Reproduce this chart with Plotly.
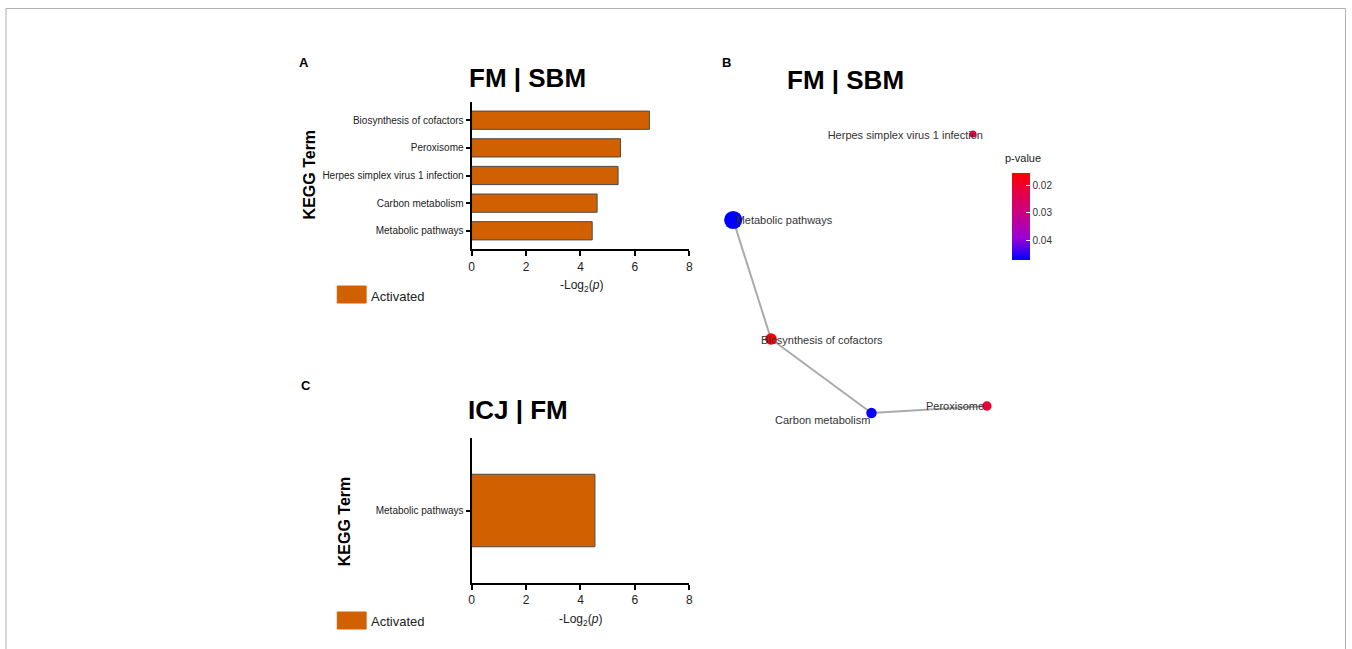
import plotly.graph_objects as go

W, H = 1352, 649

# ---- data -------------------------------------------------------------
terms_a = ["Biosynthesis of cofactors", "Peroxisome", "Herpes simplex virus 1 infection",
           "Carbon metabolism", "Metabolic pathways"]
neglog2p_a = [6.53, 5.47, 5.38, 4.61, 4.43]

terms_c = ["Metabolic pathways"]
neglog2p_c = [4.53]

x_ticks = [0, 2, 4, 6, 8]

# network (panel B): node layout coordinates, p-values and gene counts
net_nodes = ["Herpes simplex virus 1 infection", "Metabolic pathways",
             "Biosynthesis of cofactors", "Carbon metabolism", "Peroxisome"]
net_x = [2.75, 0.34, 0.72, 1.73, 2.89]
net_y = [3.06, 2.20, 1.01, 0.27, 0.34]
net_p = [0.0225, 0.0474, 0.0152, 0.0470, 0.0205]
net_count = [2, 12, 6, 5, 4]
net_label_x = [2.07, 0.85, 1.23, 1.24, 2.57]
net_label_y = [3.04, 2.19, 0.99, 0.19, 0.33]
net_edges = [("Metabolic pathways", "Biosynthesis of cofactors"),
             ("Biosynthesis of cofactors", "Carbon metabolism"),
             ("Carbon metabolism", "Peroxisome")]
pval_ticks = [0.02, 0.03, 0.04]

BAR = "#D06000"
FONT = "Liberation Sans, Arial, sans-serif"


def px(x):
    return x / W


def py(y):
    return 1 - y / H


fig = go.Figure()

# ---- panel A: bar chart ------------------------------------------------
fig.add_trace(go.Bar(
    x=neglog2p_a, y=terms_a, orientation="h", width=0.66,
    marker=dict(color=BAR, line=dict(color="#4a4a4a", width=1)),
    xaxis="x", yaxis="y", showlegend=False, hoverinfo="x+y"))

# ---- panel C: bar chart ------------------------------------------------
fig.add_trace(go.Bar(
    x=neglog2p_c, y=terms_c, orientation="h", width=1.0,
    marker=dict(color=BAR, line=dict(color="#4a4a4a", width=1)),
    xaxis="x2", yaxis="y2", showlegend=False, hoverinfo="x+y"))

# ---- panel B: network ----------------------------------------------------
idx = {n: i for i, n in enumerate(net_nodes)}
for a, b in net_edges:
    i, j = idx[a], idx[b]
    fig.add_trace(go.Scatter(
        x=[net_x[i], net_x[j]], y=[net_y[i], net_y[j]], mode="lines",
        line=dict(color="#aaaaaa", width=2), xaxis="x3", yaxis="y3",
        showlegend=False, hoverinfo="skip"))

# colour uses -p so that small p-values sit at the top of the colour bar
neg_p = [-p for p in net_p]
fig.add_trace(go.Scatter(
    x=net_x, y=net_y, mode="markers", xaxis="x3", yaxis="y3",
    text=net_nodes, hoverinfo="text", showlegend=False, opacity=1,
    marker=dict(
        size=[5 + 1.1 * c for c in net_count],
        color=neg_p, opacity=1,
        colorscale=[[0, "#0000FF"], [0.25, "#9A00D6"], [0.5, "#C4008F"],
                    [0.75, "#E2004F"], [1, "#FF0000"]],
        line=dict(width=0),
        colorbar=dict(
            x=px(1014), xanchor="left", y=py(216.5), yanchor="middle",
            thickness=18, thicknessmode="pixels",
            len=87, lenmode="pixels",
            outlinewidth=0, ticks="inside", ticklen=4, tickcolor="white",
            tickwidth=1,
            tickvals=[-v for v in pval_ticks],
            ticktext=[f"{v:.2f}" for v in pval_ticks],
            tickfont=dict(size=10, color="#333", family=FONT),
            xpad=0, ypad=0,
        ),
    )))

fig.add_trace(go.Scatter(
    x=net_label_x, y=net_label_y, mode="text", text=net_nodes,
    textfont=dict(size=11, color="#333", family=FONT),
    xaxis="x3", yaxis="y3", showlegend=False, hoverinfo="skip"))

# ---- axes ----------------------------------------------------------------
bar_x = dict(
    range=[0, 8], tickvals=x_ticks, showgrid=False, zeroline=False,
    showline=True, linecolor="black", linewidth=2,
    ticks="outside", ticklen=5, tickwidth=1.5, tickcolor="black",
    tickfont=dict(size=12, color="#222", family=FONT), fixedrange=True)
bar_y = dict(
    showgrid=False, zeroline=False, showline=True, linecolor="black",
    linewidth=2, ticks="outside", ticklen=4, tickwidth=1.5,
    tickcolor="black", tickfont=dict(size=10, color="#222", family=FONT),
    fixedrange=True)

fig.update_layout(
    width=W, height=H,
    margin=dict(l=0, r=0, t=0, b=0),
    paper_bgcolor="white", plot_bgcolor="white",
    font=dict(family=FONT),
    xaxis=dict(bar_x, domain=[px(471), px(690)], anchor="y"),
    yaxis=dict(bar_y, domain=[py(249.3), py(101.7)], anchor="x",
               categoryorder="array", categoryarray=terms_a[::-1],
               range=[-0.67, 4.67]),
    xaxis2=dict(bar_x, domain=[px(471), px(690)], anchor="y2"),
    yaxis2=dict(bar_y, domain=[py(583), py(438)], anchor="x2",
                range=[-1, 1]),
    xaxis3=dict(domain=[px(700), px(1010)], range=[0, 3.1], anchor="y3",
                visible=False, fixedrange=True),
    yaxis3=dict(domain=[py(440), py(120)], range=[0, 3.2], anchor="x3",
                visible=False, fixedrange=True),
)

# ---- text ----------------------------------------------------------------
ann = []


def text(x, y, s, size, bold=False, angle=0, color="black", xanchor="center"):
    ann.append(dict(
        x=px(x), y=py(y), xref="paper", yref="paper", text=f"<b>{s}</b>" if bold else s,
        showarrow=False, textangle=angle, xanchor=xanchor, yanchor="middle",
        font=dict(size=size, color=color, family=FONT)))


text(303, 62, "A", 13, bold=True)
text(727, 63, "B", 13, bold=True)
text(305, 385, "C", 13, bold=True)

text(527, 78, "FM | SBM", 26, bold=True)
text(847, 80, "FM | SBM", 26, bold=True)
text(518, 410, "ICJ | FM", 26, bold=True)

text(308, 174, "KEGG Term", 16, bold=True, angle=-90)
text(343, 521, "KEGG Term", 16, bold=True, angle=-90)

xt = "-Log<sub>2</sub>(<i>p</i>)"
text(582, 286, xt, 12, color="#222")
text(581, 620, xt, 12, color="#222")

text(368, 296, "Activated", 13, color="#222", xanchor="left")
text(368, 621, "Activated", 13, color="#222", xanchor="left")

text(1025, 158, "p-value", 11, color="#222")

fig.update_layout(annotations=ann)

# legend swatches and outer frame
shapes = []
for y0, y1 in [(286, 303), (612, 629)]:
    shapes.append(dict(type="rect", xref="paper", yref="paper",
                       x0=px(336), x1=px(365), y0=py(y1), y1=py(y0),
                       fillcolor=BAR, line=dict(color=BAR, width=1)))
shapes.append(dict(type="rect", xref="paper", yref="paper",
                   x0=px(3), x1=px(1349.5), y0=-0.05, y1=py(8.5),
                   line=dict(color="#b0b0b0", width=1), fillcolor="rgba(0,0,0,0)",
                   layer="below"))
fig.update_layout(shapes=shapes)

fig.write_html("out.html")
